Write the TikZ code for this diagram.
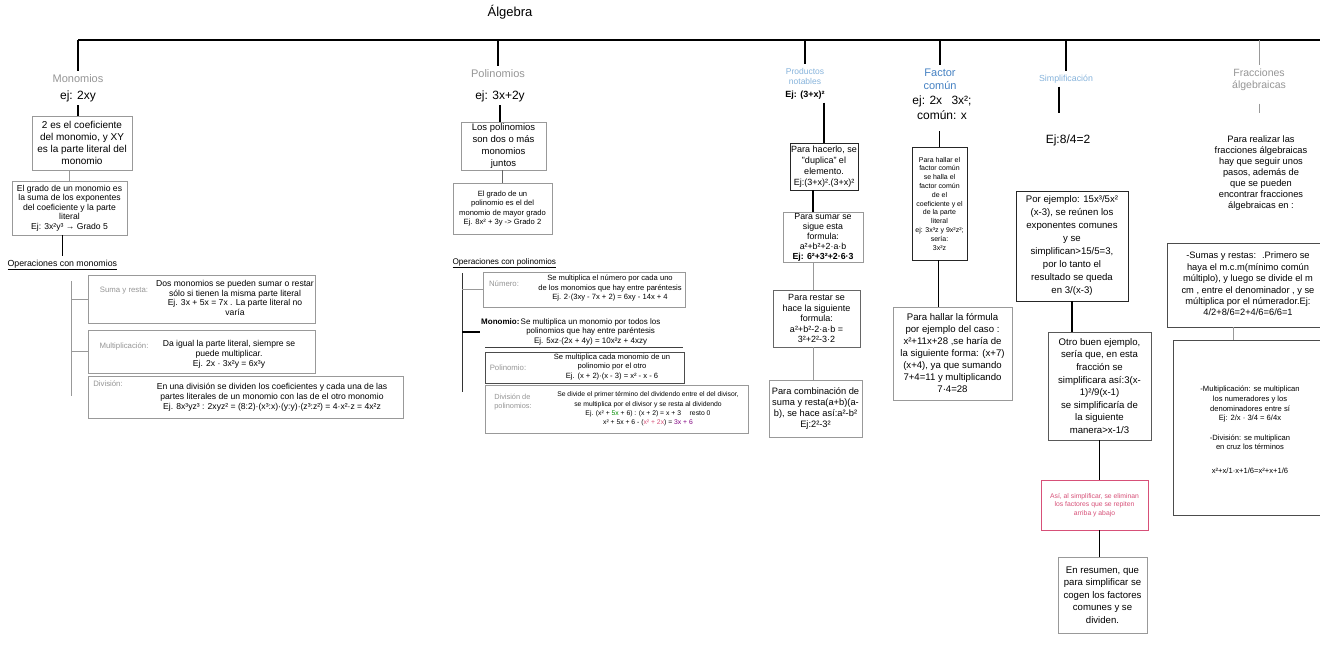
\documentclass[tikz,border=0pt]{standalone}
\usepackage{fontspec}
\setmainfont{Liberation Sans}
\usetikzlibrary{positioning, calc}
\definecolor{AlGray}{RGB}{150,150,150}
\definecolor{AlBlue}{RGB}{70,130,195}
\definecolor{AlSky}{RGB}{135,180,220}
\definecolor{AlPink}{RGB}{215,80,120}
\newcommand{\fsz}[2]{\fontsize{#1}{#2}\selectfont}

\begin{document}
\begin{tikzpicture}[x=1pt, y=-1pt,
    head/.style={font=\fsz{11}{13}, AlGray, align=center},
    ej/.style={font=\fsz{12}{14}, align=center},
    box/.style={draw=black!40, line width=0.6pt, align=center, inner sep=1pt},
    boxd/.style={box, draw=black!85},
    trunk/.style={line width=1.5pt},
    lnk/.style={line width=1.4pt},
    lnkt/.style={line width=0.6pt, black!40},
    oplab/.style={font=\fsz{7.8}{9}, AlGray, align=left},
    optxt/.style={font=\fsz{8.6}{9.8}, align=center}
  ]
  \useasboundingbox (0,0) rectangle (1320,645);
  \fill[white] (0,0) rectangle (1320,645);

  % title and trunk
  \node[font=\fsz{13}{15}] (alg) at (510,12) {Álgebra};
  \coordinate (top0) at (78,40);
  \coordinate (top1) at (1330,40);
  \draw[trunk] (top0) -- (top1);

  % Monomios
  \node[head] (monT) at (78,79) {Monomios};
  \node[ej] (monEj) at (78,96) {ej: 2xy};
  \node[box, minimum width=100, minimum height=54, font=\fsz{10}{12}] (monB1) at (82,143)
        {2 es el coeficiente\\del monomio, y XY\\es la parte literal del\\monomio};
  \node[box, minimum width=115, minimum height=54, font=\fsz{8.6}{9.6}] (monB2) at (69.5,208)
        {El grado de un monomio es\\la suma de los exponentes\\del coeficiente y la parte\\literal\\Ej: 3x²y³ → Grado 5};
  \node[font=\fsz{8.8}{10}, anchor=west] (opMon) at (4,265) {\underline{Operaciones con monomios}};
  \coordinate (brM0) at (71,281);
  \coordinate (brM1) at (71,396);

  \node[box, minimum width=227, minimum height=48] (sum) at (201.5,299) {};
  \node[oplab] (sumL) at (124,291) {Suma y resta:};
  \node[optxt] (sumT) at (235,298)
        {Dos monomios se pueden sumar o restar\\sólo si tienen la misma parte literal\\Ej. 3x + 5x = 7x . La parte literal no\\varía};
  \node[box, minimum width=227, minimum height=43] (mul) at (201.5,351.5) {};
  \node[oplab] (mulL) at (124,346) {Multiplicación:};
  \node[optxt] (mulT) at (229,354)
        {Da igual la parte literal, siempre se\\puede multiplicar.\\Ej. 2x · 3x²y = 6x³y};
  \node[box, minimum width=315, minimum height=42] (div) at (245.5,397) {};
  \node[oplab] (divL) at (108,384) {División:};
  \node[optxt, font=\fsz{8.6}{10}] (divT) at (272,397)
        {En una división se dividen los coeficientes y cada una de las\\partes literales de un monomio con las de el otro monomio\\Ej. 8x³yz³ : 2xyz² = (8:2)·(x³:x)·(y:y)·(z³:z²) = 4·x²·z = 4x²z};

  \draw[lnk] (monEj.south) -- (monEj.south |- monB1.north);
  \draw[lnkt] (monB1.south -| monB2.north) -- (monB2.north);
  \draw[lnk] (monB2.south -| opMon.north) -- (opMon.north);
  \draw[lnkt] (brM0) -- (brM1);
  \draw[lnkt] (sum.west -| brM0) -- (sum.west);
  \draw[lnkt] (mul.west -| brM0) -- (mul.west);

  % Polinomios
  \node[head] (polT) at (498,74) {Polinomios};
  \node[ej] (polEj) at (500,96) {ej: 3x+2y};
  \node[box, minimum width=85, minimum height=48, font=\fsz{9.5}{11.7}] (polB1) at (503.5,146)
        {Los polinomios\\son dos o más\\monomios\\juntos};
  \node[box, minimum width=99, minimum height=51, font=\fsz{7.6}{9.6}] (polB2) at (502.5,208.5)
        {El grado de un\\polinomio es el del\\monomio de mayor grado\\Ej. 8x² + 3y -> Grado 2};
  \node[font=\fsz{8.2}{9.5}, anchor=west] (opPol) at (449,263) {\underline{Operaciones con polinomios}};
  \coordinate (brP0) at (462,273);
  \coordinate (brP1) at (462,392);

  \node[box, minimum width=202, minimum height=35] (polA) at (584,289.5) {};
  \node[oplab] (polAL) at (504,284) {Número:};
  \node[optxt, font=\fsz{7.6}{9.6}] (polAT) at (610,288)
        {Se multiplica el número por cada uno\\de los monomios que hay entre paréntesis\\Ej. 2·(3xy - 7x + 2) = 6xy - 14x + 4};
  \node[font=\fsz{8}{9.6}, align=left, anchor=west, inner sep=1pt] (polB) at (480,332)
        {\textbf{Monomio:}\,\begin{tabular}[t]{@{}c@{}}Se multiplica un monomio por todos los\\polinomios que hay entre paréntesis\\Ej. 5xz·(2x + 4y) = 10x²z + 4xzy\end{tabular}};
  \draw[line width=0.8pt, black!75] (485,347) -- (683,347);
  \node[box, draw=black!70, minimum width=199, minimum height=31] (polC) at (584.5,367.5) {};
  \node[oplab] (polCL) at (508,368) {Polinomio:};
  \node[optxt, font=\fsz{7.6}{9.6}] (polCT) at (612,367)
        {Se multiplica cada monomio de un\\polinomio por el otro\\Ej. (x + 2)·(x - 3) = x² - x - 6};
  \node[box, minimum width=263, minimum height=48] (polD) at (616.5,409) {};
  \node[oplab, font=\fsz{7.4}{9}] (polDL) at (513,402) {División de\\polinomios:};
  \node[optxt, font=\fsz{6.8}{9.4}] (polDT) at (648,409)
        {Se divide el primer término del dividendo entre el del divisor,\\se multiplica por el divisor y se resta al dividendo\\Ej. (x² + {\color{green!55!black}5x} + 6) : (x + 2) = x + 3 \quad resto 0\\x² + 5x + 6 - ({\color{AlPink}x² + 2x}) = {\color{violet}3x + 6}};

  \draw[lnk] (polEj.south) -- (polEj.south |- polB1.north);
  \draw[line width=1pt, black!60] (polB1.south -| polB2.north) -- (polB2.north);
  \draw[line width=1pt, black!80] (brP0) -- (brP1);
  \draw[lnkt] (polA.west -| brP0) -- (polA.west);
  \draw[lnk] (polB.west -| brP0) -- (polB.west);

  % Productos notables
  \node[font=\fsz{8.5}{10}, AlSky, align=center] (prodT) at (805,76) {Productos\\notables};
  \node[font=\fsz{9}{11}\bfseries] (prodEj) at (805,95) {Ej: (3+x)²};
  \node[boxd, minimum width=68, minimum height=47, font=\fsz{9}{11.2}] (prB1) at (824,166.5)
        {Para hacerlo, se\\"duplica" el\\elemento.\\Ej:(3+x)².(3+x)²};
  \node[box, minimum width=80, minimum height=50, font=\fsz{8.8}{10}] (prB2) at (823,237)
        {Para sumar se\\sigue esta\\formula:\\a²+b²+2·a·b\\\textbf{Ej: 6²+3²+2·6·3}};
  \node[box, draw=black!60, minimum width=87, minimum height=57, font=\fsz{9}{10.5}] (prB3) at (816.5,318.5)
        {Para restar se\\hace la siguiente\\formula:\\a²+b²-2·a·b =\\3²+2²-3·2};
  \node[box, minimum width=93, minimum height=57, font=\fsz{9.3}{11.3}] (prB4) at (815.5,408.5)
        {Para combinación de\\suma y resta(a+b)(a-\\b), se hace así:a²-b²\\Ej:2²-3²};

  \draw[lnk] (prodEj.south -| prB1.north) -- (prB1.north);
  \draw[lnk] (prB1.south -| 813,0) -- (prB2.north -| 813,0);
  \draw[lnkt] (prB2.south -| 813,0) -- (prB3.north -| 813,0);
  \draw[lnkt] (prB3.south -| 813,0) -- (prB4.north -| 813,0);

  % Factor comun
  \node[font=\fsz{11}{13}, AlBlue, align=center] (facT) at (940,79) {Factor\\común};
  \node[ej, font=\fsz{12}{15}] (facEj) at (942,108) {ej: 2x \enspace 3x²;\\común: x};
  \node[boxd, minimum width=55, minimum height=113, font=\fsz{7}{8.8}] (facB1) at (939.5,203.5)
        {Para hallar el\\factor común\\se halla el\\factor común\\de el\\coeficiente y el\\de la parte\\literal\\ej: 3x³z y 9x²z²;\\sería:\\3x²z};
  \node[box, minimum width=119, minimum height=93, font=\fsz{9.6}{12}] (facB2) at (952.5,353.5)
        {Para hallar la fórmula\\por ejemplo del caso :\\x²+11x+28 ,se haría de\\la siguiente forma: (x+7)\\(x+4), ya que sumando\\7+4=11 y multiplicando\\7·4=28};

  \draw[line width=1pt] (facEj.south -| facB1.north) ++(0,8) -- (facB1.north);
  \draw[line width=1pt] (facB1.south -| 938,0) -- (facB2.north -| 938,0);

  % Simplificacion
  \node[font=\fsz{8.8}{10}, AlSky] (simT) at (1066,79) {Simplificación};
  \coordinate (simC) at (1059,113);
  \node[ej] (simEj) at (1068,140) {Ej:8/4=2};
  \node[boxd, minimum width=112, minimum height=110, font=\fsz{9.6}{13}] (simB1) at (1072,246)
        {Por ejemplo: 15x³/5x²\\(x-3), se reúnen los\\exponentes comunes\\y se\\simplifican>15/5=3,\\por lo tanto el\\resultado se queda\\en 3/(x-3)};
  \node[box, draw=black!65, minimum width=103, minimum height=108, font=\fsz{9.6}{12.6}] (simB2) at (1099.5,386)
        {Otro buen ejemplo,\\sería que, en esta\\fracción se\\simplificara así:3(x-\\1)²/9(x-1)\\se simplificaría de\\la siguiente\\manera>x-1/3};
  \node[boxd, minimum width=107, minimum height=50, font=\fsz{6.8}{8.5}, AlPink] (simB3) at (1094.5,505)
        {Así, al simplificar, se eliminan\\los factores que se repiten\\arriba y abajo};
  \node[box, minimum width=89, minimum height=76, font=\fsz{9.6}{12.5}] (simB4) at (1102.5,595)
        {En resumen, que\\para simplificar se\\cogen los factores\\comunes y se\\dividen.};

  \draw[lnk] (simT.south -| simC) -- (simC);
  \draw[lnk] (simB1.south) -- (simB1.south |- simB2.north);
  \draw[line width=0.8pt] (simB2.south) -- (simB2.south |- simB3.north);
  \draw[lnk] (simB3.south -| simB2.south) -- (simB2.south |- simB4.north);

  % Fracciones algebraicas
  \node[head, font=\fsz{10.5}{12.5}] (fraT) at (1259,80) {Fracciones\\álgebraicas};
  \node[font=\fsz{9.3}{11}, align=center] (fraTxt) at (1261,173)
        {Para realizar las\\fracciones álgebraicas\\hay que seguir unos\\pasos, además de\\que se pueden\\encontrar fracciones\\álgebraicas en :};
  \node[box, draw=black!70, minimum width=170, minimum height=84] (fraB1) at (1252,285) {};
  \node[font=\fsz{9.3}{11.4}, align=center] (fraB1T) at (1248,284)
        {-Sumas y restas: \ .Primero se\\haya el m.c.m(mínimo común\\múltiplo), y luego se divide el m\\cm , entre el denominador , y se\\múltiplica por el númerador.Ej:\\4/2+8/6=2+4/6=6/6=1};
  \node[box, draw=black!70, minimum width=164, minimum height=175] (fraB2) at (1255,427.5) {};
  \node[font=\fsz{7.6}{9.6}, align=center] (fraB2T) at (1250,430)
        {-Multiplicación: se multiplican\\los numeradores y los\\denominadores entre sí\\Ej: 2/x · 3/4 = 6/4x\\[10pt]-División: se multiplican\\en cruz los términos\\[14pt]x²+x/1·x+1/6=x²+x+1/6};
  \coordinate (fraK) at (1233,0);

  \draw[lnkt, line width=1pt] (fraT.south) ++(0,9) -- ++(0,9);
  \draw[lnkt] (fraB1.south -| fraK) -- (fraB2.north -| fraK);

  % drops from the trunk
  \foreach \n in {monT, polT, prodT, facT, simT}
    \draw[trunk] (\n.north |- top0) -- (\n.north);
  \draw[lnkt, line width=1pt] (fraT.north |- top0) -- (fraT.north);
\end{tikzpicture}
\end{document}
